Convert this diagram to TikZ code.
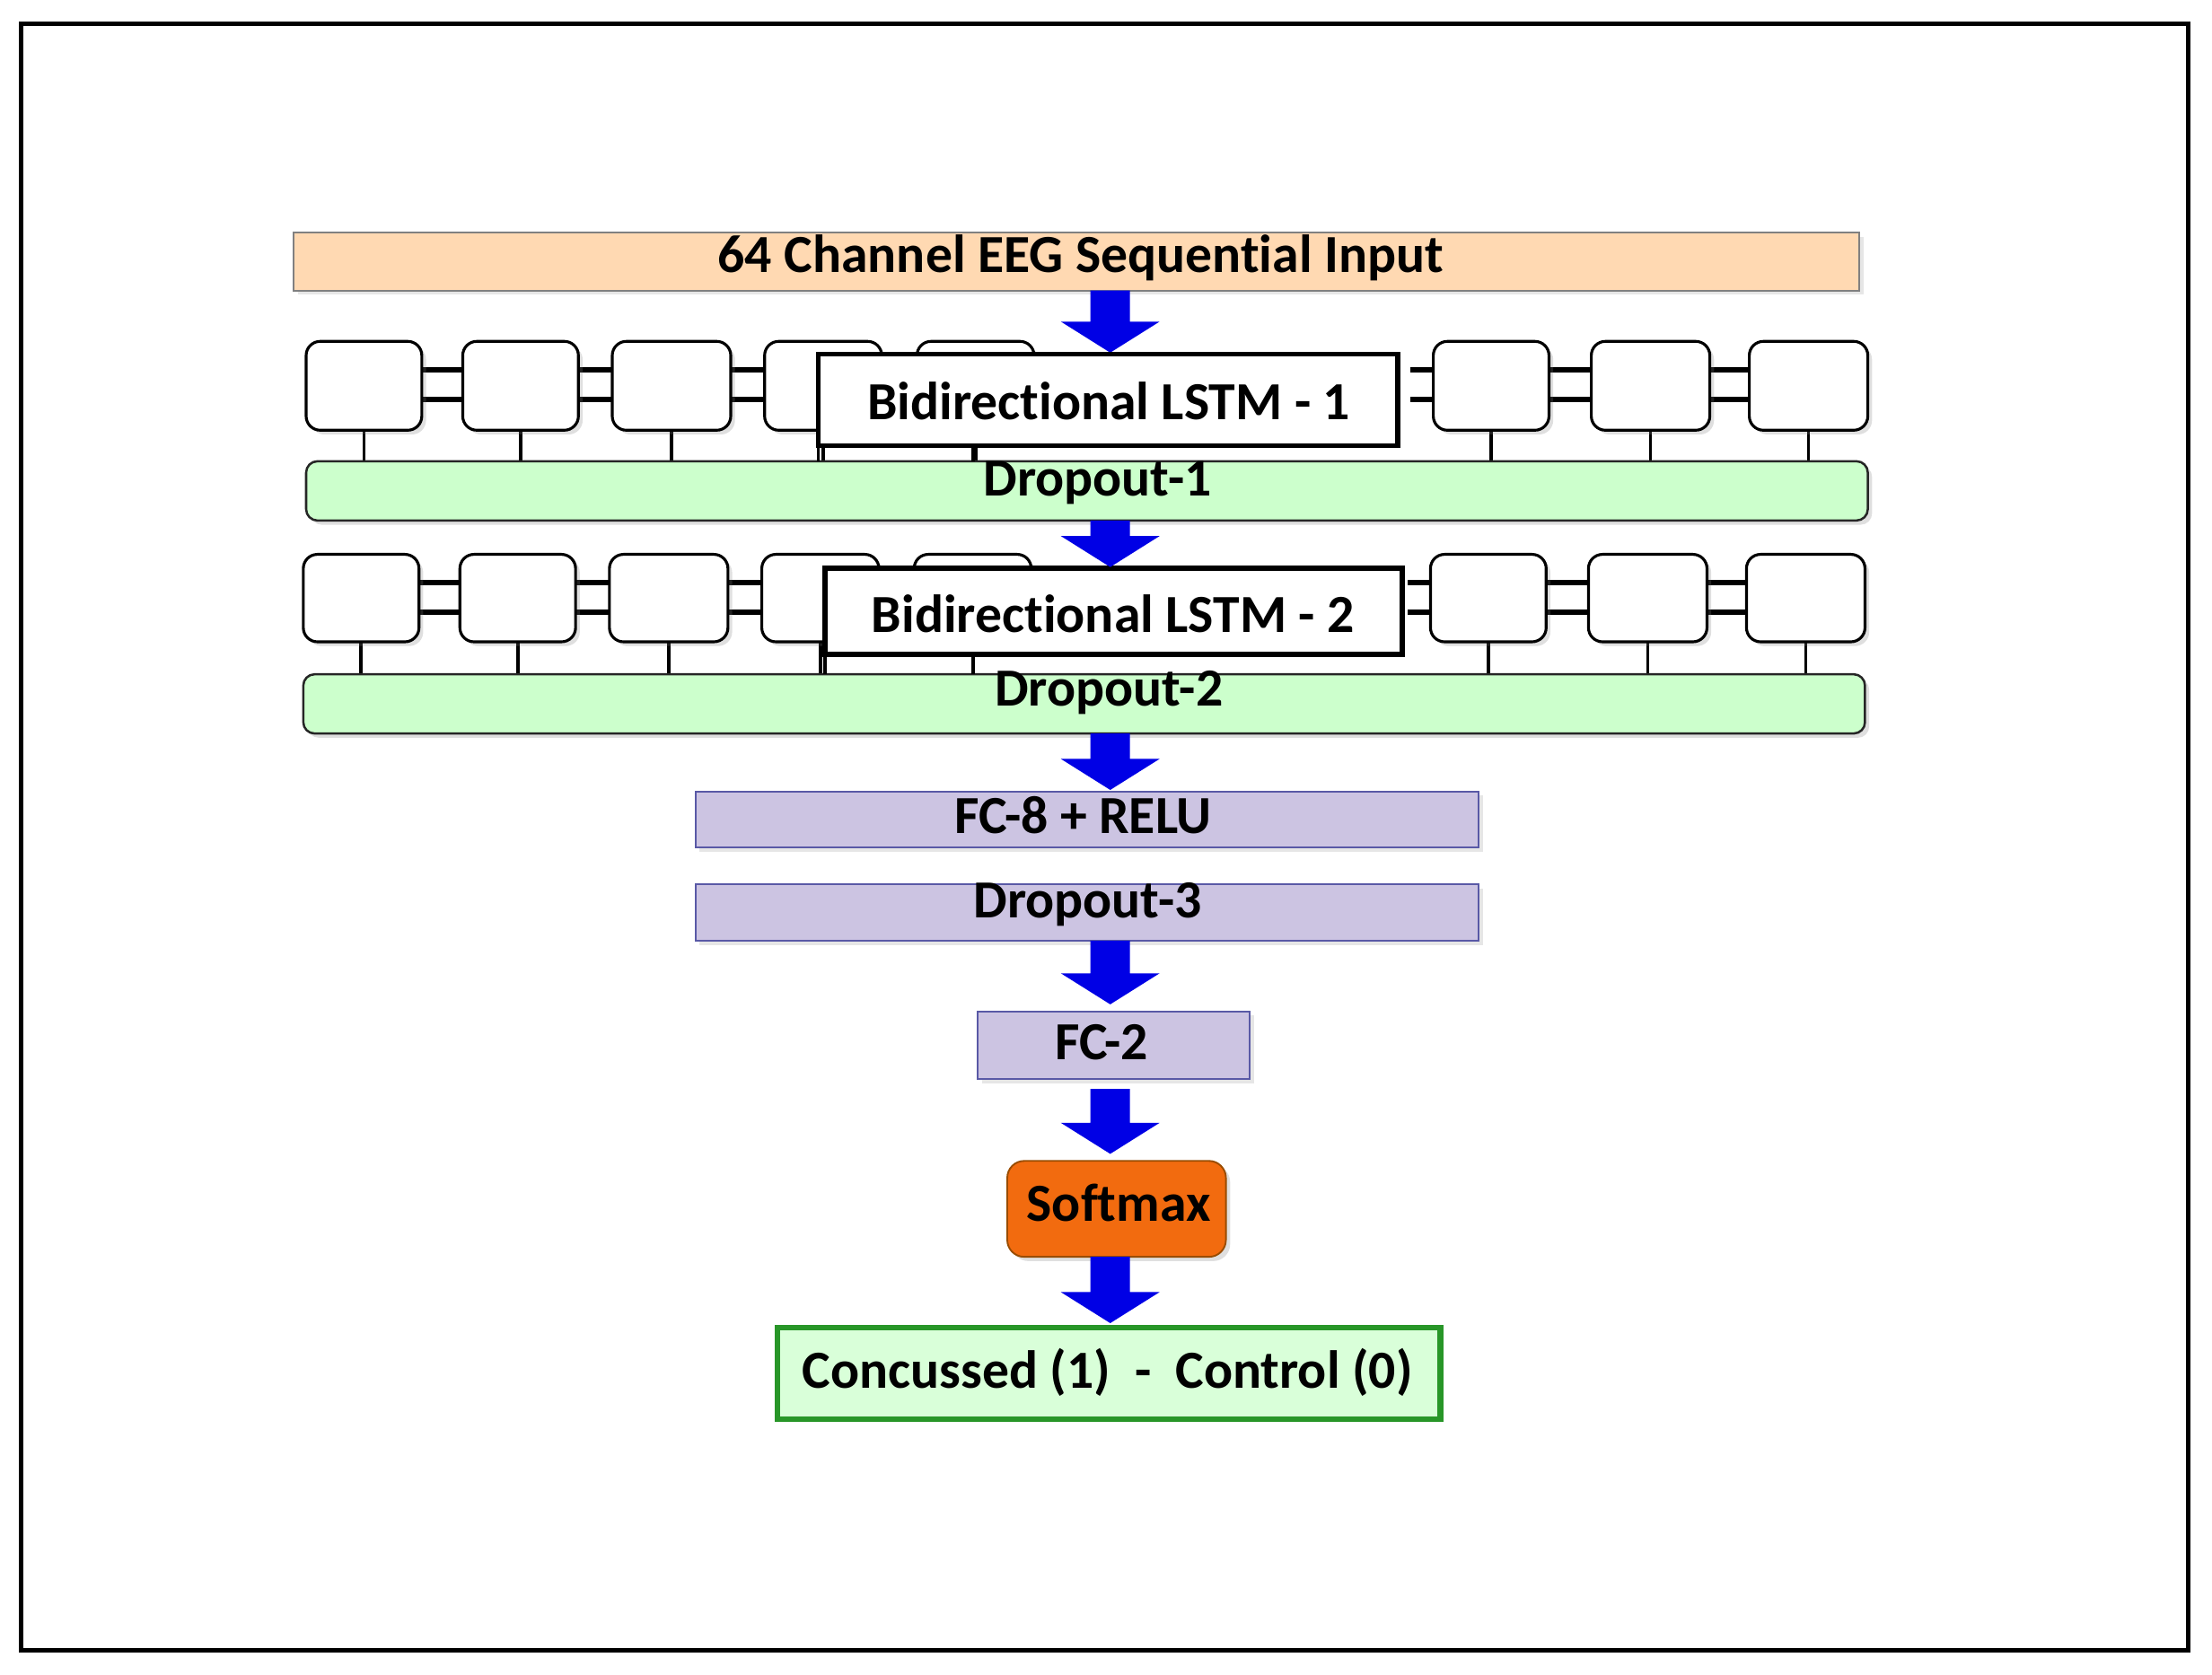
\documentclass[tikz,border=0pt]{standalone}
\usepackage{fontspec}
\setmainfont[Ligatures={NoCommon}]{Carlito}
\usetikzlibrary{shadows}
\definecolor{lav}{RGB}{204,196,226}
\begin{document}
\begin{tikzpicture}[x=0.5pt,y=-0.5pt,
  lbl/.style={font=\fontsize{19}{22}\selectfont\bfseries},
  cell/.style={draw=black,line width=1pt,fill=white,rounded corners=5pt,drop shadow={opacity=0.25,shadow xshift=1.5pt,shadow yshift=-1.5pt}},
  bar/.style={draw=black!85,line width=0.8pt,rounded corners=4pt,fill=green!20,drop shadow={opacity=0.25,shadow xshift=1.5pt,shadow yshift=-1.5pt}},
  flat/.style={draw=gray!70!blue,line width=0.6pt,drop shadow={opacity=0.2,shadow xshift=1.5pt,shadow yshift=-1.5pt}},
  conn/.style={line width=1.8pt},
  tick/.style={line width=1.2pt},
  blk/.style={fill=blue!90!black}]
\useasboundingbox (0,0) rectangle (1568,1187);
\draw[line width=1.6pt] (15,17) rectangle (1551,1170);
\newcommand{\barrow}[3]{\fill[blk] (#1-14,#2) -- (#1+14,#2) -- (#1+14,#3-22) -- (#1+35,#3-22) -- (#1,#3) -- (#1-35,#3-22) -- (#1-14,#3-22) -- cycle;}
% input
\draw[flat,fill=orange!30!white,draw=gray] (208,165) rectangle (1318,206);
\node[lbl] (inp) at (766,183) {64 Channel EEG Sequential Input};
\barrow{787}{206}{250}
% LSTM rows
\foreach \r/\yt/\yb/\da/\db/\dx in {1/242/305/327/369/0, 2/393/455/478/520/-2}{
  \foreach \xa/\xb in {217/299,328/410,434/518,542/625,650/733,1016/1098,1128/1212,1240/1324}{
     \draw[tick] ({(\xa+\xb)/2+\dx},\yb) -- ({(\xa+\xb)/2+\dx},\da);
  }
  \foreach \xa/\xb in {299/328,410/434,518/542,1000/1016,1098/1128,1212/1240}{
     \draw[conn] (\xa+\dx,\yt+20) -- (\xb+\dx,\yt+20);
     \draw[conn] (\xa+\dx,\yt+41) -- (\xb+\dx,\yt+41);
  }
  \foreach \xa/\xb in {217/299,328/410,434/518,542/625,650/733,1016/1098,1128/1212,1240/1324}{
     \draw[cell] (\xa+\dx,\yt) rectangle (\xb+\dx,\yb);
  }
  \draw[bar] (217+\dx,\da) rectangle (1324+\dx,\db);
}
\draw[tick] (580,316) -- (580,327); \draw[tick] (585,464) -- (585,478);
\draw[tick] (690,316) -- (690,327); \draw[tick] (690,464) -- (690,478);
\draw[line width=1.8pt,fill=white] (580,251) rectangle (991,316);
\node[lbl] (l1) at (786,284) {Bidirectional LSTM - 1};
\draw[line width=1.8pt,fill=white] (585,403) rectangle (994,464);
\node[lbl] (l2) at (789,435) {Bidirectional LSTM - 2};
\node[lbl] (d1) at (778,342) {Dropout-1};
\barrow{787}{369}{402}
\node[lbl] (d2) at (786,491) {Dropout-2};
\barrow{787}{520}{560}
% FC
\draw[flat,fill=lav] (493,561) rectangle (1048,601);
\node[lbl] (fc8) at (768,578) {FC-8 + RELU};
\draw[flat,fill=lav] (493,627) rectangle (1048,667);
\node[lbl] (d3) at (771,641) {Dropout-3};
\barrow{787}{667}{712}
\draw[flat,fill=lav] (693,717) rectangle (886,765);
\node[lbl] (fc2) at (781,739) {FC-2};
\barrow{787}{772}{818}
\draw[draw=orange!60!black,line width=0.6pt,fill={rgb,255:red,242;green,107;blue,15},rounded corners=6pt,drop shadow={opacity=0.25,shadow xshift=1.5pt,shadow yshift=-1.5pt}] (714,823) rectangle (869,891);
\node[lbl] (sm) at (793,853) {Softmax};
\barrow{787}{891}{938}
\draw[draw={rgb,255:red,40;green,150;blue,40},line width=2pt,fill=green!15] (551,941) rectangle (1021,1006);
\node[lbl] (out) at (785,973) {Concussed (1)\ \ -\ \ Control (0)};
\end{tikzpicture}
\end{document}
